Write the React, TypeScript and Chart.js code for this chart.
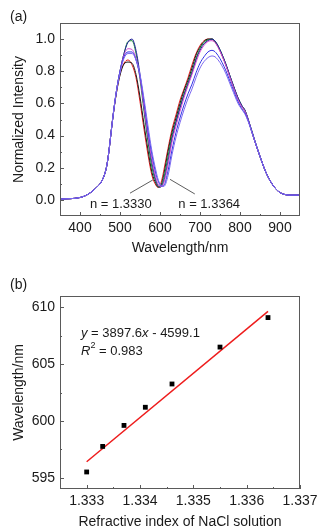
import React, { useEffect, useRef } from "react";
import { Chart, registerables } from "chart.js";

Chart.register(...registerables);

const FONT = '"Liberation Sans", Arial, Helvetica, sans-serif';
const TEXT = "#1a1a1a";
const FRAME = "#5a5a5a";

// ---------- Panel (a): spectra ----------
const wavelengths = [350, 400, 420, 440, 455, 465, 470, 475, 480, 490, 500, 510, 520, 530, 540, 550, 560, 570, 580, 590, 595, 600, 605, 610, 620, 630, 640, 650, 660, 670, 680, 690, 700, 710, 720, 730, 740, 760, 780, 795, 805, 812, 820, 835, 850, 865, 880, 895, 910, 930, 950];

const spectrumN13330 = [0.005, 0.015, 0.035, 0.075, 0.12, 0.19, 0.26, 0.36, 0.47, 0.65, 0.78, 0.85, 0.87, 0.84, 0.76, 0.61, 0.44, 0.28, 0.15, 0.09, 0.078, 0.09, 0.13, 0.19, 0.32, 0.44, 0.53, 0.62, 0.69, 0.76, 0.84, 0.91, 0.96, 0.99, 1.0, 1.0, 0.975, 0.87, 0.73, 0.63, 0.58, 0.555, 0.5, 0.38, 0.27, 0.17, 0.1, 0.055, 0.035, 0.03, 0.03];
const spectrumN13333 = [0.005, 0.015, 0.035, 0.075, 0.12, 0.19, 0.26, 0.36, 0.47, 0.65, 0.775, 0.845, 0.857, 0.85, 0.78, 0.64, 0.47, 0.31, 0.17, 0.1, 0.08, 0.08, 0.11, 0.165, 0.3, 0.42, 0.51, 0.6, 0.68, 0.745, 0.82, 0.9, 0.95, 0.985, 1.0, 1.0, 0.975, 0.87, 0.73, 0.63, 0.58, 0.555, 0.5, 0.38, 0.27, 0.17, 0.1, 0.055, 0.035, 0.03, 0.03];
const spectrumN13337 = [0.005, 0.015, 0.035, 0.075, 0.12, 0.19, 0.26, 0.36, 0.47, 0.66, 0.8, 0.91, 0.985, 0.99, 0.91, 0.75, 0.55, 0.36, 0.2, 0.11, 0.085, 0.08, 0.095, 0.14, 0.27, 0.4, 0.49, 0.58, 0.66, 0.73, 0.8, 0.88, 0.94, 0.98, 0.995, 1.0, 0.98, 0.875, 0.735, 0.635, 0.585, 0.56, 0.505, 0.385, 0.27, 0.17, 0.1, 0.055, 0.035, 0.03, 0.03];
const spectrumN13341 = [0.005, 0.015, 0.035, 0.075, 0.12, 0.19, 0.26, 0.36, 0.47, 0.66, 0.8, 0.91, 0.98, 1.0, 0.93, 0.78, 0.58, 0.39, 0.23, 0.12, 0.09, 0.08, 0.09, 0.12, 0.24, 0.38, 0.48, 0.57, 0.65, 0.72, 0.79, 0.87, 0.93, 0.97, 0.99, 1.0, 0.98, 0.875, 0.735, 0.635, 0.585, 0.56, 0.505, 0.385, 0.27, 0.17, 0.1, 0.055, 0.035, 0.03, 0.03];
const spectrumN13346 = [0.005, 0.015, 0.035, 0.075, 0.12, 0.19, 0.26, 0.36, 0.47, 0.66, 0.8, 0.9, 0.94, 0.935, 0.88, 0.76, 0.58, 0.4, 0.25, 0.135, 0.1, 0.085, 0.085, 0.11, 0.22, 0.36, 0.46, 0.55, 0.635, 0.71, 0.78, 0.855, 0.92, 0.96, 0.985, 0.99, 0.97, 0.865, 0.725, 0.625, 0.578, 0.553, 0.5, 0.38, 0.27, 0.17, 0.1, 0.055, 0.035, 0.03, 0.03];
const spectrumN13355 = [0.005, 0.015, 0.035, 0.075, 0.12, 0.19, 0.26, 0.36, 0.47, 0.66, 0.8, 0.89, 0.92, 0.92, 0.87, 0.77, 0.61, 0.43, 0.28, 0.16, 0.12, 0.095, 0.085, 0.09, 0.18, 0.31, 0.42, 0.51, 0.59, 0.66, 0.72, 0.79, 0.85, 0.89, 0.92, 0.93, 0.915, 0.83, 0.705, 0.61, 0.565, 0.54, 0.495, 0.38, 0.27, 0.17, 0.1, 0.055, 0.035, 0.03, 0.03];
const spectrumN13364 = [0.005, 0.015, 0.035, 0.075, 0.12, 0.19, 0.26, 0.36, 0.47, 0.66, 0.79, 0.88, 0.91, 0.91, 0.87, 0.78, 0.63, 0.46, 0.3, 0.18, 0.13, 0.1, 0.085, 0.085, 0.15, 0.28, 0.39, 0.48, 0.56, 0.63, 0.69, 0.76, 0.82, 0.86, 0.885, 0.895, 0.885, 0.81, 0.69, 0.6, 0.56, 0.535, 0.49, 0.38, 0.27, 0.17, 0.1, 0.055, 0.035, 0.03, 0.03];

const spectraNames = ["n = 1.3330", "n = 1.3333", "n = 1.3337", "n = 1.3341", "n = 1.3346", "n = 1.3355", "n = 1.3364"];
const spectra = [spectrumN13330, spectrumN13333, spectrumN13337, spectrumN13341, spectrumN13346, spectrumN13355, spectrumN13364];

const xTicksA = [400, 500, 600, 700, 800, 900];
const xMinorA = [450, 550, 650, 750, 850];
const yTicksA = [0, 0.2, 0.4, 0.6, 0.8, 1.0];
const yMinorA = [0.1, 0.3, 0.5, 0.7, 0.9];

// ---------- Panel (b): dip wavelength vs refractive index ----------
const refractiveIndex = [1.333, 1.3333, 1.3337, 1.3341, 1.3346, 1.3355, 1.3364];
const dipWavelength = [595.5, 597.75, 599.6, 601.2, 603.25, 606.5, 609.1];
const fitX = [1.333, 1.3364];
const fitY = [596.4, 609.65];
const xTicksB = [1.333, 1.334, 1.335, 1.336, 1.337];
const xMinorB = [1.3335, 1.3345, 1.3355, 1.3365];
const yTicksB = [595, 600, 605, 610];
const yMinorB = [597.5, 602.5, 607.5];

function framePlugin(id: string, xMajor: number[], xMinor: number[], yMajor: number[], yMinor: number[], label: string, labelY: number) {
  return {
    id,
    afterDraw(chart: any) {
      const { ctx, chartArea: a } = chart;
      const xs = chart.scales.x;
      const ys = chart.scales.y;
      ctx.save();
      ctx.strokeStyle = FRAME;
      ctx.lineWidth = 1;
      ctx.strokeRect(a.left + 0.5, a.top + 0.5, a.right - a.left - 1, a.bottom - a.top - 1);
      ctx.beginPath();
      const tick = (v: number, len: number, horiz: boolean) => {
        if (horiz) {
          const p = Math.round(xs.getPixelForValue(v)) + 0.5;
          ctx.moveTo(p, a.bottom);
          ctx.lineTo(p, a.bottom - len);
        } else {
          const p = Math.round(ys.getPixelForValue(v)) + 0.5;
          ctx.moveTo(a.left, p);
          ctx.lineTo(a.left + len, p);
        }
      };
      xMajor.forEach((v) => tick(v, 4, true));
      xMinor.forEach((v) => tick(v, 2, true));
      yMajor.forEach((v) => tick(v, 4, false));
      yMinor.forEach((v) => tick(v, 2, false));
      ctx.stroke();
      ctx.fillStyle = TEXT;
      ctx.font = `14px ${FONT}`;
      ctx.textAlign = "left";
      ctx.textBaseline = "middle";
      ctx.fillText(label, 10, labelY);
      ctx.restore();
    },
  };
}

const annotationA = {
  id: "annotA",
  afterDatasetsDraw(chart: any) {
    const { ctx } = chart;
    const xs = chart.scales.x;
    const ys = chart.scales.y;
    const P = (x: number, y: number) => [xs.getPixelForValue(x), ys.getPixelForValue(y)];
    ctx.save();
    ctx.strokeStyle = "#333";
    ctx.lineWidth = 0.8;
    ctx.beginPath();
    let p = P(525, 0.042);
    ctx.moveTo(p[0], p[1]);
    p = P(582, 0.124);
    ctx.lineTo(p[0], p[1]);
    p = P(625, 0.128);
    ctx.moveTo(p[0], p[1]);
    p = P(687, 0.037);
    ctx.lineTo(p[0], p[1]);
    ctx.stroke();
    ctx.fillStyle = TEXT;
    ctx.font = `13px ${FONT}`;
    ctx.textAlign = "center";
    ctx.textBaseline = "middle";
    p = P(502, -0.025);
    ctx.fillText(spectraNames[0], p[0], p[1]);
    p = P(723, -0.025);
    ctx.fillText(spectraNames[spectraNames.length - 1], p[0], p[1]);
    ctx.restore();
  },
};

const annotationB = {
  id: "annotB",
  afterDatasetsDraw(chart: any) {
    const { ctx, chartArea: a } = chart;
    ctx.save();
    ctx.fillStyle = TEXT;
    ctx.textAlign = "left";
    ctx.textBaseline = "middle";
    const parts = (segs: [string, string][], x: number, y: number) => {
      let cx = x;
      segs.forEach(([t, f]) => {
        ctx.font = f;
        if (f.indexOf("9px") >= 0) {
          ctx.fillText(t, cx, y - 5);
        } else {
          ctx.fillText(t, cx, y);
        }
        cx += ctx.measureText(t).width;
      });
    };
    const n = `13px ${FONT}`;
    const it = `italic 13px ${FONT}`;
    const sup = `9px ${FONT}`;
    parts([["y", it], [" = 3897.6", n], ["x", it], [" - 4599.1", n]], a.left + 21, a.top + 37);
    parts([["R", it], ["2", sup], [" = 0.983", n]], a.left + 21, a.top + 55);
    ctx.restore();
  },
};

export default function App() {
  const refA = useRef<HTMLCanvasElement>(null);
  const refB = useRef<HTMLCanvasElement>(null);

  useEffect(() => {
    const colors = ["#e62020", "#1a1a1a", "#1b8a3a", "#23239a", "#d24fd2", "#3333e6", "#7d6af0"];
    const tickFont = { size: 14, family: FONT };

    const chartA = new Chart(refA.current as HTMLCanvasElement, {
      type: "line",
      data: {
        datasets: spectra.map((s, i) => ({
          label: spectraNames[i],
          data: wavelengths.map((w, j) => ({ x: w, y: s[j] })),
          borderColor: colors[i],
          borderWidth: 1,
          pointRadius: 0,
          fill: false,
          order: spectra.length - i,
          cubicInterpolationMode: "monotone" as const,
        })),
      },
      options: {
        responsive: false,
        animation: false,
        devicePixelRatio: 1,
        layout: { padding: { top: 23, right: 28, bottom: 0, left: 0 } },
        plugins: { legend: { display: false }, tooltip: { enabled: false } },
        scales: {
          x: {
            type: "linear",
            position: "bottom",
            min: 350,
            max: 950,
            grid: { display: false, drawTicks: false },
            border: { display: false },
            ticks: { font: tickFont, color: TEXT, padding: 4, maxRotation: 0, autoSkip: false, callback: (v: any) => String(v) },
            afterBuildTicks: (s: any) => {
              s.ticks = xTicksA.map((v) => ({ value: v }));
            },
            afterFit: (s: any) => {
              s.height = 49;
            },
            title: { display: true, text: "Wavelength/nm", font: tickFont, color: TEXT, padding: { top: 0, bottom: 8 } },
          },
          y: {
            type: "linear",
            position: "left",
            min: -0.1,
            max: 1.1,
            grid: { display: false, drawTicks: false },
            border: { display: false },
            ticks: { font: tickFont, color: TEXT, padding: 5, callback: (v: any) => Number(v).toFixed(1) },
            afterBuildTicks: (s: any) => {
              s.ticks = yTicksA.map((v) => ({ value: v }));
            },
            afterFit: (s: any) => {
              s.width = 60;
            },
            title: { display: true, text: "Normalized Intensity", font: tickFont, color: TEXT, padding: { top: 11, bottom: 0 } },
          },
        },
      },
      plugins: [framePlugin("frameA", xTicksA, xMinorA, yTicksA, yMinorA, "(a)", 17), annotationA],
    });

    const chartB = new Chart(refB.current as HTMLCanvasElement, {
      type: "scatter",
      data: {
        datasets: [
          {
            label: "fit",
            data: fitX.map((x, i) => ({ x, y: fitY[i] })),
            showLine: true,
            borderColor: "#ee1c1c",
            borderWidth: 1.5,
            pointRadius: 0,
            order: 2,
          },
          {
            label: "dip",
            data: refractiveIndex.map((x, i) => ({ x, y: dipWavelength[i] })),
            showLine: false,
            pointStyle: "rect",
            pointRadius: 3.4,
            backgroundColor: "#000",
            borderColor: "#000",
            borderWidth: 0,
            order: 1,
          },
        ],
      },
      options: {
        responsive: false,
        animation: false,
        devicePixelRatio: 1,
        layout: { padding: { top: 31, right: 28, bottom: 0, left: 0 } },
        plugins: { legend: { display: false }, tooltip: { enabled: false } },
        scales: {
          x: {
            type: "linear",
            position: "bottom",
            min: 1.3325,
            max: 1.337,
            grid: { display: false, drawTicks: false },
            border: { display: false },
            ticks: { font: tickFont, color: TEXT, padding: 4, maxRotation: 0, autoSkip: false, callback: (v: any) => Number(v).toFixed(3) },
            afterBuildTicks: (s: any) => {
              s.ticks = xTicksB.map((v) => ({ value: v }));
            },
            afterFit: (s: any) => {
              s.height = 44;
            },
            title: { display: true, text: "Refractive index of NaCl solution", font: tickFont, color: TEXT, padding: { top: 0, bottom: 2 } },
          },
          y: {
            type: "linear",
            position: "left",
            min: 594,
            max: 611,
            grid: { display: false, drawTicks: false },
            border: { display: false },
            ticks: { font: tickFont, color: TEXT, padding: 5, callback: (v: any) => String(v) },
            afterBuildTicks: (s: any) => {
              s.ticks = yTicksB.map((v) => ({ value: v }));
            },
            afterFit: (s: any) => {
              s.width = 60;
            },
            title: { display: true, text: "Wavelength/nm", font: tickFont, color: TEXT, padding: { top: 11, bottom: 0 } },
          },
        },
      },
      plugins: [framePlugin("frameB", xTicksB, xMinorB, yTicksB, yMinorB, "(b)", 20), annotationB],
    });

    return () => {
      chartA.destroy();
      chartB.destroy();
    };
  }, []);

  return (
    <div style={{ position: "fixed", left: 0, top: 0, width: 328, height: 531, background: "#fff", overflow: "hidden" }}>
      <canvas ref={refA} width={328} height={265} style={{ display: "block", position: "absolute", left: 0, top: 0 }} />
      <canvas ref={refB} width={328} height={268} style={{ display: "block", position: "absolute", left: 0, top: 265 }} />
    </div>
  );
}
